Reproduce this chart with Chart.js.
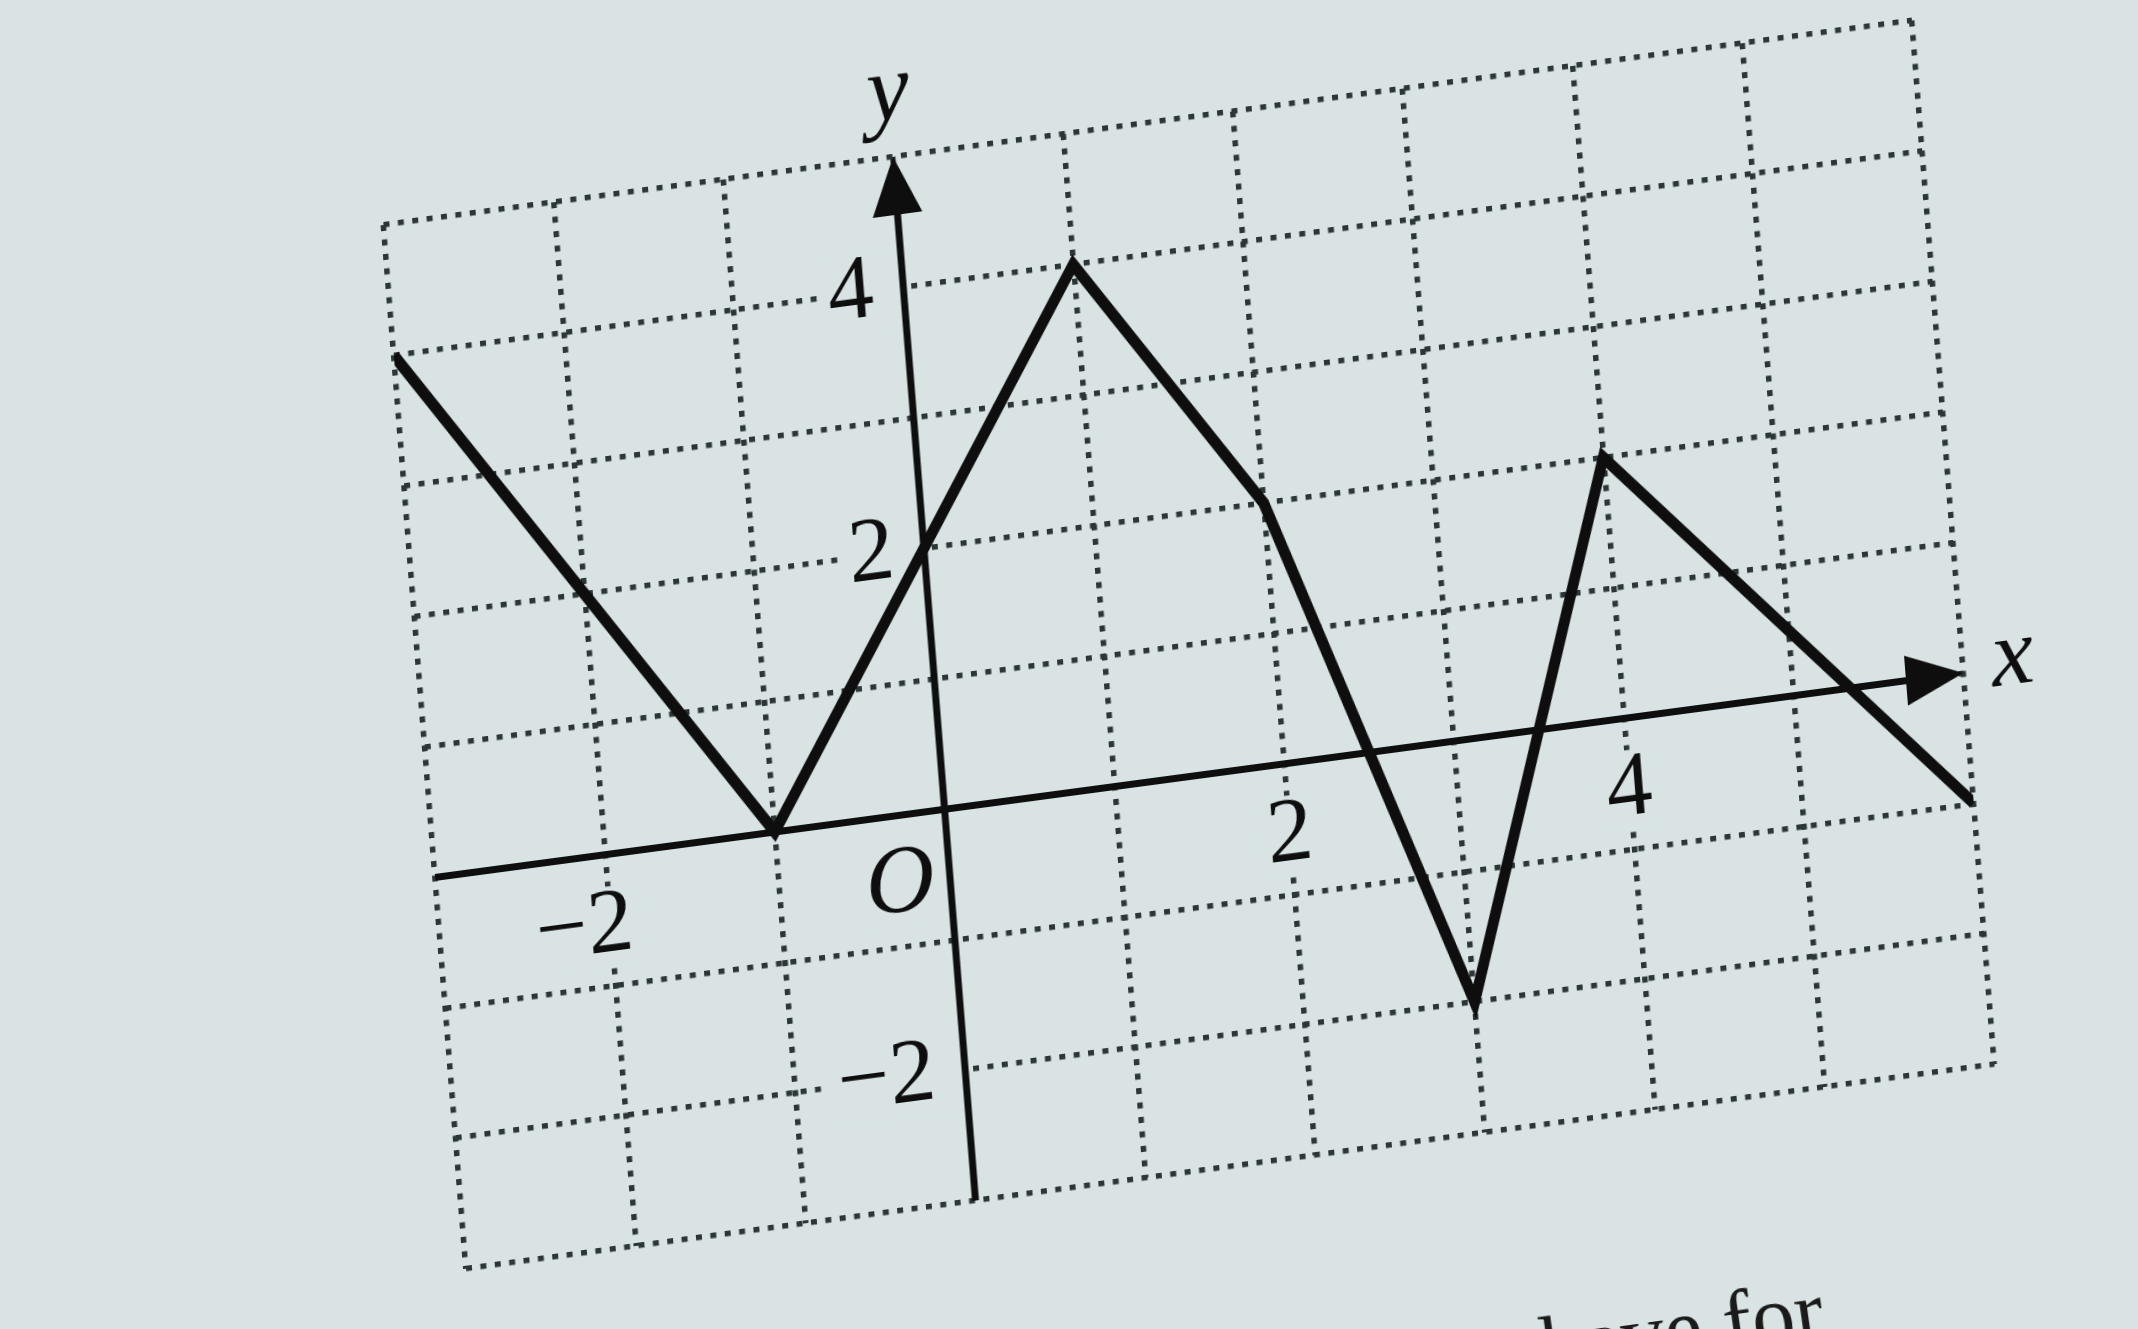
<!DOCTYPE html>
<html>
<head>
<meta charset="utf-8">
<script src="https://cdn.jsdelivr.net/npm/chart.js@4"></script>
<style>
    html, body { margin: 0; padding: 0; width: 2138px; height: 1329px; overflow: hidden; background: #d9e3e3; }
    #wrap {
        position: absolute; left: 298px; top: 1px; width: 1782px; height: 1287px;
        transform-origin: 50% 50%;
        transform: matrix(0.9912, -0.1326, 0.0788, 0.9967, 0, 0);
    }
    #pageText {
        position: absolute; left: 1535px; top: 1306px;
        font: 86px "Liberation Serif", serif; line-height: 1; color: #1a1a1a;
        transform-origin: left top; transform: rotate(-8deg); white-space: nowrap;
    }
</style>
</head>
<body>
<div id="wrap"><canvas id="graph"></canvas></div>
<div id="pageText">have for</div>
<script>
// piecewise linear graph
const xValues = [-3, -1, 1, 2, 3, 4, 6];
const yValues = [4, 0, 4, 2, -2, 2, -1];
const xRange = [-3, 6];
const yRange = [-3, 5];
const xTickLabels = [-2, 2, 4];
const yTickLabels = [4, 2, -2];

const bg = '#d9e3e3';
const ink = '#0e0e0e';
const gridColor = '#2c3636';

function numText(v) {
    return v < 0 ? '\u2212' + Math.abs(v) : String(v);
}

// axes with arrows and the labels sitting next to them
const axesPlugin = {
    id: 'axesPlugin',
    beforeDatasetsDraw(chart) {
        const ctx = chart.ctx;
        const x = chart.scales.x, y = chart.scales.y;
        const x0 = x.getPixelForValue(0), y0 = y.getPixelForValue(0);
        const xl = x.getPixelForValue(xRange[0]), xr = x.getPixelForValue(xRange[1]);
        const yb = y.getPixelForValue(yRange[0]), yt = y.getPixelForValue(yRange[1]);
        const headLen = 58, headHalf = 25;

        ctx.save();
        ctx.font = '92px "Liberation Serif", serif';
        ctx.textBaseline = 'middle';

        // x tick labels, digit centred on the grid line
        xTickLabels.forEach(v => {
            const t = numText(v);
            const digitW = ctx.measureText(String(Math.abs(v))).width;
            const w = ctx.measureText(t).width;
            const px = x.getPixelForValue(v) + digitW / 2;
            const py = y0 + 72;
            ctx.fillStyle = bg;
            ctx.fillRect(px - w - 8, py - 40, w + 16, 80);
            ctx.fillStyle = ink;
            ctx.textAlign = 'right';
            ctx.fillText(t, px, py);
        });

        // y tick labels, right aligned against the y axis
        yTickLabels.forEach(v => {
            const t = numText(v);
            const w = ctx.measureText(t).width;
            const px = x0 - 30;
            const py = y.getPixelForValue(v);
            ctx.fillStyle = bg;
            ctx.fillRect(px - w - 10, py - 40, w + 40, 80);
            ctx.fillStyle = ink;
            ctx.textAlign = 'right';
            ctx.fillText(t, px, py);
        });

        // italic letters O, x, y
        ctx.font = 'italic 96px "Liberation Serif", serif';
        ctx.textAlign = 'center';
        ctx.fillStyle = bg;
        ctx.fillRect(x0 - 88, y0 + 30, 76, 80);
        ctx.fillStyle = ink;
        ctx.fillText('O', x0 - 50, y0 + 70);
        ctx.fillText('x', xr + 50, y0 - 8);
        ctx.fillText('y', x0, yt - 62);

        // axis lines
        ctx.strokeStyle = ink;
        ctx.lineWidth = 7;
        ctx.beginPath();
        ctx.moveTo(xl, y0);
        ctx.lineTo(xr - headLen + 4, y0);
        ctx.moveTo(x0, yb);
        ctx.lineTo(x0, yt + headLen - 4);
        ctx.stroke();

        // arrow heads
        ctx.fillStyle = ink;
        ctx.beginPath();
        ctx.moveTo(xr, y0);
        ctx.lineTo(xr - headLen, y0 - headHalf);
        ctx.lineTo(xr - headLen, y0 + headHalf);
        ctx.closePath();
        ctx.moveTo(x0, yt);
        ctx.lineTo(x0 - headHalf, yt + headLen);
        ctx.lineTo(x0 + headHalf, yt + headLen);
        ctx.closePath();
        ctx.fill();
        ctx.restore();
    }
};

const gridOpts = { color: gridColor, lineWidth: 5.5, drawTicks: false };
const borderOpts = { display: false, dash: [6, 8.5] };

const ctx = document.getElementById('graph').getContext('2d');
const graph = new Chart(ctx, {
    type: 'scatter',
    data: {
        datasets: [{
            data: xValues.map((v, i) => ({ x: v, y: yValues[i] })),
            showLine: true,
            borderColor: ink,
            borderWidth: 11,
            borderJoinStyle: 'miter',
            pointRadius: 0,
            fill: false
        }]
    },
    options: {
        responsive: true,
        maintainAspectRatio: false,
        animation: false,
        layout: { padding: 120 },
        plugins: { legend: { display: false }, tooltip: { enabled: false } },
        scales: {
            x: {
                type: 'linear', min: xRange[0], max: xRange[1],
                ticks: { display: false, stepSize: 1 },
                grid: gridOpts, border: borderOpts
            },
            y: {
                type: 'linear', min: yRange[0], max: yRange[1],
                ticks: { display: false, stepSize: 1 },
                grid: gridOpts, border: borderOpts
            }
        }
    },
    plugins: [axesPlugin]
});
</script>
</body>
</html>
